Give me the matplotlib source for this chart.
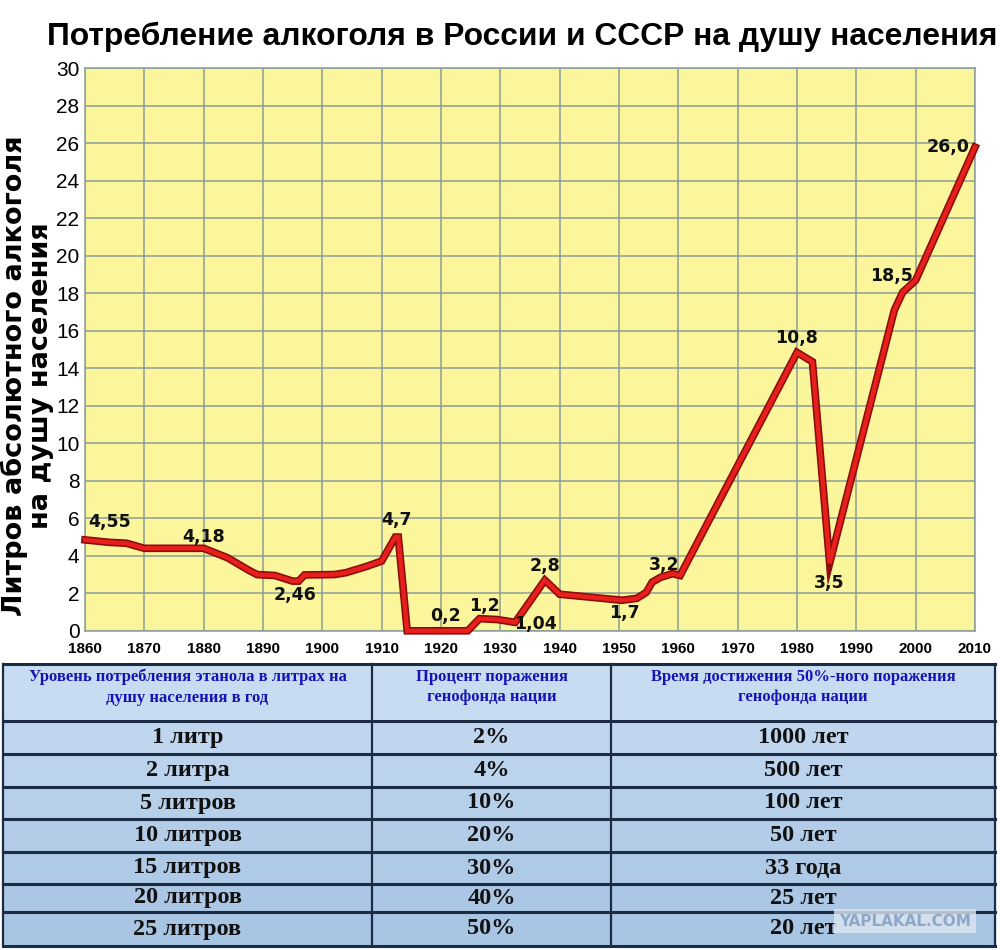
import numpy as np
import matplotlib
matplotlib.use("Agg")
import matplotlib.pyplot as plt
import matplotlib.patheffects as pe

# =============================================================================
# DATA
# =============================================================================
years = [1860, 1864, 1867, 1870, 1880, 1884, 1887.5, 1889, 1892, 1893, 1895, 1896,
         1897, 1902, 1904, 1907.5, 1910, 1912.3, 1912.8, 1914.3, 1924.5, 1926.5,
         1929.5, 1932.5, 1937.5, 1940, 1950.5, 1953, 1954.6, 1955.6, 1957, 1959,
         1960.3, 1980, 1982.6, 1985.5, 1996.4, 1997.8, 2000, 2010]
litres = [4.85, 4.72, 4.67, 4.4, 4.4, 3.9, 3.25, 3.0, 2.95, 2.85, 2.65, 2.65,
          2.98, 3.0, 3.1, 3.44, 3.72, 5.0, 5.0, 0.0, 0.0, 0.65,
          0.6, 0.45, 2.7, 1.95, 1.63, 1.73, 2.05, 2.6, 2.85, 3.05,
          2.95, 14.85, 14.35, 3.6, 17.1, 18.05, 18.7, 25.8]

label_text = ['4,55', '4,18', '2,46', '4,7', '0,2', '1,2', '1,04', '2,8', '1,7',
              '3,2', '10,8', '3,5', '18,5', '26,0']
label_x = [1864.2, 1880.0, 1895.4, 1912.5, 1920.8, 1927.3, 1936.0, 1937.6, 1950.9,
           1957.6, 1979.9, 1985.4, 1996.0, 2005.4]
label_y = [5.8, 5.0, 1.9, 5.9, 0.8, 1.3, 0.38, 3.44, 0.95,
           3.5, 15.6, 2.55, 18.95, 25.8]

col_headers = ['Уровень потребления этанола в литрах на\nдушу населения в год',
               'Процент поражения\nгенофонда нации',
               'Время достижения 50%-ного поражения\nгенофонда нации']
col_litres = ['1 литр', '2 литра', '5 литров', '10 литров', '15 литров',
              '20 литров', '25 литров']
col_percent = ['2%', '4%', '10%', '20%', '30%', '40%', '50%']
col_time = ['1000 лет', '500 лет', '100 лет', '50 лет', '33 года', '25 лет', '20 лет']

# =============================================================================
# CHART
# =============================================================================
fig = plt.figure(figsize=(10, 9.5), dpi=100)
fig.patch.set_facecolor('white')

grid_c = '#8c9e98'
ax = fig.add_axes([0.085, 0.336, 0.89, 0.592])
ax.set_facecolor('#fbf59c')
ax.set_xlim(1860, 2010)
ax.set_ylim(0, 30)
ax.set_xticks(np.arange(1860, 2011, 10))
ax.set_yticks(np.arange(0, 31, 2))
ax.grid(True, color=grid_c, linewidth=1.1)
ax.set_axisbelow(True)
for s in ax.spines.values():
    s.set_color(grid_c)
    s.set_linewidth(1.1)
ax.tick_params(length=0)
ax.tick_params(axis='x', pad=8)
ax.tick_params(axis='y', pad=4)
for t in ax.get_xticklabels():
    t.set_fontfamily('Liberation Sans')
    t.set_fontweight('bold')
    t.set_fontsize(11)
for t in ax.get_yticklabels():
    t.set_fontfamily('Liberation Sans')
    t.set_fontsize(15)

ax.plot(years, litres, color='#e8201c', linewidth=3.2, solid_joinstyle='miter',
        clip_on=False, zorder=4,
        path_effects=[pe.Stroke(linewidth=5.5, foreground='#8a0c0c'), pe.Normal()])

for txt, x, y in zip(label_text, label_x, label_y):
    ax.text(x, y, txt, ha='center', va='center', fontsize=12.5, fontweight='bold',
            family='DejaVu Sans', color='#111111', zorder=6)

fig.text(0.027, 0.605, 'Литров абсолютного алкоголя\nна душу населения', rotation=90,
         ha='center', va='center', fontsize=19.5, fontweight='bold',
         family='DejaVu Sans', linespacing=1.0)

# title, scaled to fill the width like the original
title = fig.text(0.047, 0.953, 'Потребление алкоголя в России и СССР на душу населения',
                 ha='left', va='baseline', fontsize=34, fontweight='bold',
                 family=['DejaVu Sans Condensed', 'Liberation Sans'], fontstretch='condensed')
fig.canvas.draw()
w = title.get_window_extent().width
title.set_fontsize(34 * 950 / w)

# =============================================================================
# TABLE (pixel coordinates of the 1000x950 picture)
# =============================================================================
tab = fig.add_axes([0, 0, 1, 1], zorder=-1)
tab.set_xlim(0, 1000)
tab.set_ylim(950, 0)
tab.axis('off')

row_edges = [664, 721, 754, 787, 819, 852, 884, 912, 946]
col_edges = [3, 372, 611, 995]
line_c = '#1d2c45'

tab.add_patch(plt.Rectangle((col_edges[0], row_edges[0]), col_edges[-1] - col_edges[0],
                            row_edges[1] - row_edges[0], color='#c7dcf1', zorder=0))
body_cols = ['#bfd6ee', '#bbd3ec', '#b7d0ea', '#b3cde8', '#afcae7', '#abc7e5', '#a8c5e4']
for i in range(len(col_litres)):
    tab.add_patch(plt.Rectangle((col_edges[0], row_edges[i + 1]), col_edges[-1] - col_edges[0],
                                row_edges[i + 2] - row_edges[i + 1], color=body_cols[i], zorder=0))

for yy in row_edges:
    tab.plot([col_edges[0], col_edges[-1]], [yy, yy], color=line_c, linewidth=2.2, zorder=2)
for xx in col_edges:
    tab.plot([xx, xx], [row_edges[0], row_edges[-1]], color=line_c, linewidth=1.6, zorder=2)

for j, h in enumerate(col_headers):
    cx = (col_edges[j] + col_edges[j + 1]) / 2
    tab.text(cx, 687, h, ha='center', va='center', fontsize=12, fontweight='bold',
             family='Liberation Serif', color='#1414b4', linespacing=1.4)

for i in range(len(col_litres)):
    cy = (row_edges[i + 1] + row_edges[i + 2]) / 2
    for j, col in enumerate([col_litres, col_percent, col_time]):
        cx = (col_edges[j] + col_edges[j + 1]) / 2
        tab.text(cx, cy, col[i], ha='center', va='center', fontsize=17.5, fontweight='bold',
                 family='Liberation Serif', color='#111111')

tab.text(905, 921, 'YAPLAKAL.COM', ha='center', va='center', fontsize=11, fontweight='bold',
         family='DejaVu Sans', color='#8fa7c8', zorder=5,
         bbox=dict(boxstyle='square,pad=0.3', facecolor='#dde6f0', edgecolor='none', alpha=0.8))

plt.savefig('out.png', dpi=100, facecolor='white')
